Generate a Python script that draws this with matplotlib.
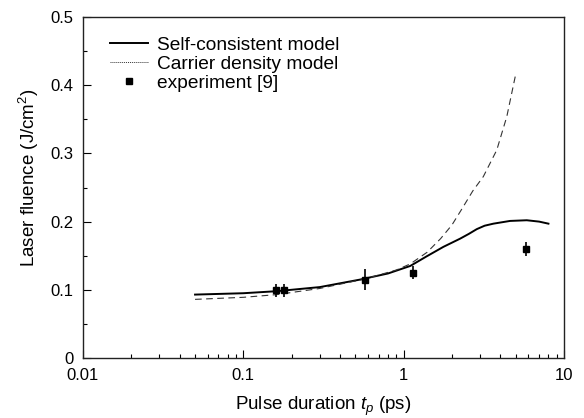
import matplotlib
matplotlib.use("Agg")
import matplotlib.pyplot as plt
import numpy as np
from matplotlib.ticker import FixedLocator, LogLocator, NullFormatter
from matplotlib.lines import Line2D

plt.rcParams['font.family'] = ['Liberation Sans', 'DejaVu Sans']
plt.rcParams['mathtext.fontset'] = 'custom'
plt.rcParams['mathtext.rm'] = 'Liberation Sans'
plt.rcParams['mathtext.it'] = 'Liberation Sans:italic'

# Self-consistent model (solid)
sc_x = [0.05, 0.1, 0.162, 0.3, 0.535, 0.8, 1.10, 1.39, 1.77, 2.25, 2.55, 2.86, 3.2, 3.63, 4.61, 5.86, 7.0, 8.0]
sc_y = [0.093, 0.095, 0.098, 0.104, 0.115, 0.124, 0.135, 0.149, 0.163, 0.175, 0.182, 0.189, 0.194, 0.197, 0.201, 0.202, 0.200, 0.197]

# Carrier density model (dashed)
cd_x = [0.05, 0.1, 0.162, 0.3, 0.575, 0.9, 1.10, 1.4, 1.7, 2.0, 2.3, 2.7, 3.14, 3.81, 4.40, 5.02]
cd_y = [0.086, 0.089, 0.093, 0.102, 0.116, 0.129, 0.138, 0.155, 0.175, 0.195, 0.218, 0.245, 0.266, 0.305, 0.354, 0.418]

# Experiment [9]
ex_x = [0.16, 0.18, 0.57, 1.15, 5.78]
ex_y = [0.099, 0.099, 0.115, 0.125, 0.160]
ex_err = [0.0095, 0.0095, 0.015, 0.0095, 0.01]

x_ticks = [0.01, 0.1, 1, 10]
x_tick_labels = ["0.01", "0.1", "1", "10"]
y_ticks = [0, 0.1, 0.2, 0.3, 0.4, 0.5]
y_tick_labels = ["0", "0.1", "0.2", "0.3", "0.4", "0.5"]

fs_tick = 12
fs_lab = 13.5
fs_leg = 13.8

fig = plt.figure(figsize=(5.84, 4.18), dpi=100)
ax = fig.add_axes([0.1421, 0.1435, 0.8236, 0.8158])

ax.plot(sc_x, sc_y, '-', color='black', lw=1.4)
ax.plot(cd_x, cd_y, color='#333333', lw=0.8, dashes=(6, 4))
ax.errorbar(ex_x, ex_y, yerr=ex_err, fmt='s', color='black', ms=5, elinewidth=1.2, capsize=0)

ax.set_xscale('log')
ax.set_xlim(0.01, 10)
ax.set_ylim(0, 0.5)
ax.set_xticks(x_ticks)
ax.set_xticklabels(x_tick_labels)
ax.xaxis.set_minor_locator(LogLocator(base=10, subs=np.arange(2, 10)))
ax.xaxis.set_minor_formatter(NullFormatter())
ax.set_yticks(y_ticks)
ax.set_yticklabels(y_tick_labels)
ax.yaxis.set_minor_locator(FixedLocator([0.05, 0.15, 0.25, 0.35, 0.45]))

ax.tick_params(which='both', direction='in', top=False, right=False, labelsize=fs_tick)
ax.tick_params(which='major', length=6, width=0.8)
ax.tick_params(which='minor', length=3, width=0.8)
ax.tick_params(axis='x', pad=7)
ax.tick_params(axis='y', pad=7)
for s in ax.spines.values():
    s.set_linewidth(1.0)
    s.set_color('#222222')

ax.set_xlabel(r'Pulse duration $t_p$ (ps)', fontsize=fs_lab, labelpad=9)
ax.set_ylabel(r'Laser fluence (J/cm$^2$)', fontsize=fs_lab)
ax.yaxis.set_label_coords(-0.088, 0.53)

handles = [
    Line2D([], [], color='black', lw=1.4),
    Line2D([], [], color='#333333', lw=0.7, ls=(0, (1, 1))),
    Line2D([], [], color='black', marker='s', ms=5, ls='none'),
]
labels = ['Self-consistent model', 'Carrier density model', 'experiment [9]']
ax.legend(handles, labels, loc='upper left', frameon=False, fontsize=fs_leg,
          handlelength=2.0, handletextpad=0.47, labelspacing=0.1, borderpad=0,
          borderaxespad=0, bbox_to_anchor=(0.056, 0.944))

fig.savefig('out.png', dpi=100)
